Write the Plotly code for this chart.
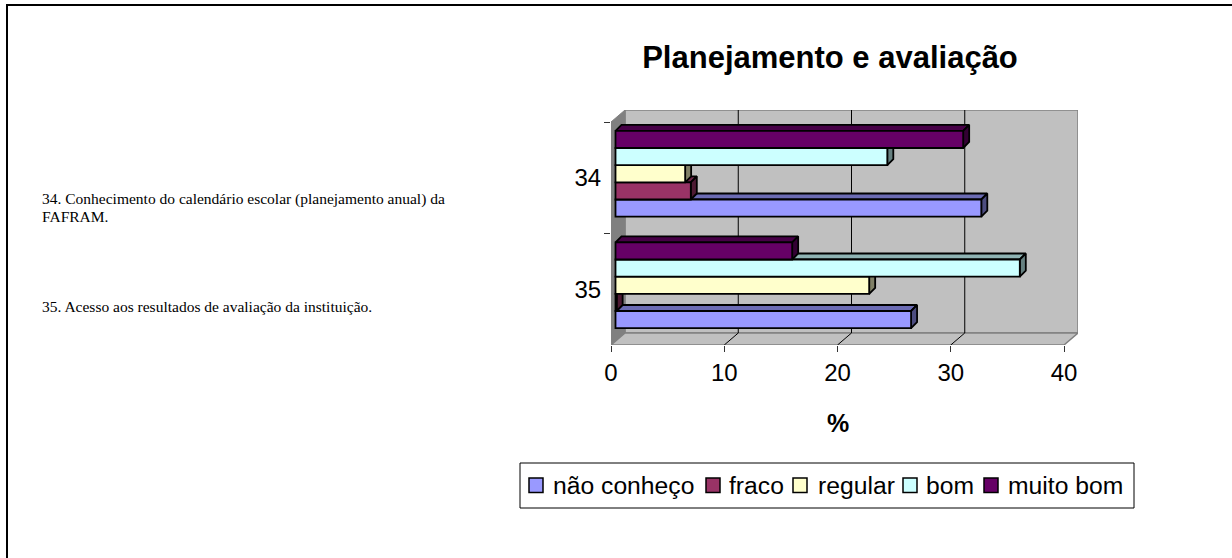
import plotly.graph_objects as go

W, H = 1232, 558

# ---- data ----
categories = ["34", "35"]
series_names = ["não conheço", "fraco", "regular", "bom", "muito bom"]
nao_conheco = [32.3, 26.1]
fraco = [6.65, 0.1]
regular = [6.15, 22.4]
bom = [24.0, 35.7]
muito_bom = [30.7, 15.6]
x_ticks = [0, 10, 20, 30, 40]
fills = ["#9999FF", "#993366", "#FFFFCC", "#CCFFFF", "#660066"]
tops = ["#6B6BB3", "#6B2447", "#B3B38F", "#8FB3B3", "#470047"]
sides = ["#4D4D80", "#4D1A33", "#808066", "#668080", "#330033"]
title_text = "Planejamento e avaliação"
note_34_a = "34. Conhecimento do calendário escolar (planejamento anual) da"
note_34_b = "FAFRAM."
note_35 = "35. Acesso aos resultados de avaliação da instituição."
all_series = [nao_conheco, fraco, regular, bom, muito_bom]

# ---- pixel layout ----
FX0, FX1 = 611, 1064     # front plane left/right
FY0, FY1 = 122, 345      # front plane top/bottom
DX, DY = 14, 12          # wall depth
LEG_SWATCH_X = [529, 706, 793, 903, 984]
LEG_TEXT_X = [552, 728, 817, 925, 1007]
LEG_BOX = (520, 463, 1134, 508)
LEG_CY = 485

UX = (FX1 - FX0) / 40    # px per % unit
UY = (FY1 - FY0) / 2     # px per category
dx = DX / UX
dy = DY / UY
bar_dx = 4.5 / UX        # front face of the bars, behind the front plane
bar_dy = 4 / UY
depth_x = 6 / UX         # depth of one bar
depth_y = 6 / UY
bar_h = 0.154

xmax = 40 + dx
ymin = -0.5 - dy
ymax = 1.5


def paper_x(px):
    return px / W


def paper_y(py):
    return 1 - py / H


fig = go.Figure()


def poly(xs, ys, fill, line="#000000", lw=1.8, z=0):
    fig.add_trace(go.Scatter(x=xs, y=ys, mode="lines", fill="toself", fillcolor=fill,
                             line=dict(color=line, width=lw), showlegend=False,
                             hoverinfo="skip", zorder=z, xaxis="x", yaxis="y"))


# walls and floor
poly([dx, 40 + dx, 40 + dx, dx, dx], [ymin, ymin, 1.5 - dy, 1.5 - dy, ymin], "#C0C0C0", "#808080", 1.5)
poly([0, dx, dx, 0, 0], [ymin + dy, ymin, 1.5 - dy, 1.5, ymin + dy], "#808080", "#808080", 1)
poly([0, 40, 40 + dx, dx, 0], [1.5, 1.5, 1.5 - dy, 1.5 - dy, 1.5], "#C0C0C0", "#808080", 1.5)
# gridlines on the wall + floor
for t in x_ticks[1:-1]:
    fig.add_trace(go.Scatter(x=[t, t + dx, t + dx], y=[1.5, 1.5 - dy, ymin], mode="lines",
                             line=dict(color="#000000", width=1), showlegend=False,
                             hoverinfo="skip", zorder=0))

# depth faces: bottom bar of each group first
for c in (1, 0):
    for s in range(5):
        v = all_series[s][c]
        yc = c + (2 - s) * bar_h - bar_dy
        yt = yc - bar_h / 2
        yb = yc + bar_h / 2
        x0 = bar_dx
        x1 = bar_dx + v
        poly([x0, x0 + depth_x, x1 + depth_x, x1, x0],
             [yt, yt - depth_y, yt - depth_y, yt, yt], tops[s])
        poly([x1, x1 + depth_x, x1 + depth_x, x1, x1],
             [yt, yt - depth_y, yb - depth_y, yb, yt], sides[s])

# front faces
for s, name in enumerate(series_names):
    fig.add_trace(go.Bar(
        x=all_series[s], base=bar_dx, orientation="h", width=bar_h,
        y=[c + (2 - s) * bar_h - bar_dy for c in range(2)],
        name=name, marker=dict(color=fills[s], line=dict(color="#000000", width=1.8)),
        hoverinfo="skip", zorder=1, xaxis="x", yaxis="y", showlegend=False))

# invisible trace carrying the front-plane category axis
fig.add_trace(go.Scatter(x=[0, 0], y=categories, mode="none", showlegend=False,
                         hoverinfo="skip", xaxis="x2", yaxis="y2"))

font_ui = "Liberation Sans, Arial, sans-serif"
font_serif = "Liberation Serif, Times New Roman, serif"
AX = "#333333"

annotations = [
    dict(text=t, x=paper_x(40), y=paper_y(py), xref="paper", yref="paper", xanchor="left",
         yanchor="middle", align="left", showarrow=False,
         font=dict(family=font_serif, size=15.5, color="#000000"))
    for t, py in ((note_34_a, 199), (note_34_b, 216), (note_35, 306))
]
annotations += [
    dict(text=n, x=paper_x(px), y=paper_y(LEG_CY), xref="paper", yref="paper", xanchor="left",
         yanchor="middle", showarrow=False, xshift=-1,
         font=dict(family=font_ui, size=24.7, color="#000000"))
    for n, px in zip(series_names, LEG_TEXT_X)
]
annotations.append(dict(text="<b>%</b>", x=paper_x(838), y=paper_y(423), xref="paper", yref="paper",
                        xanchor="center", yanchor="middle", showarrow=False,
                        font=dict(family=font_ui, size=25, color="#000000")))

shapes = [
    dict(type="line", xref="paper", yref="paper", x0=paper_x(7), x1=paper_x(7), y0=0, y1=paper_y(4),
         line=dict(color="#000000", width=2)),
    dict(type="line", xref="paper", yref="paper", x0=paper_x(6), x1=1, y0=paper_y(5), y1=paper_y(5),
         line=dict(color="#000000", width=2)),
    dict(type="rect", xref="paper", yref="paper", x0=paper_x(LEG_BOX[0]), x1=paper_x(LEG_BOX[2]),
         y0=paper_y(LEG_BOX[3]), y1=paper_y(LEG_BOX[1]), line=dict(color="#000000", width=1), fillcolor="#FFFFFF"),
]
for px, c in zip(LEG_SWATCH_X, fills):
    shapes.append(dict(type="rect", xref="paper", yref="paper", x0=paper_x(px), x1=paper_x(px + 14),
                       y0=paper_y(LEG_CY + 7.5), y1=paper_y(LEG_CY - 7), fillcolor=c,
                       line=dict(color="#000000", width=1.5)))

fig.update_layout(
    width=W, height=H, autosize=False,
    margin=dict(l=0, r=0, t=0, b=0, autoexpand=False),
    paper_bgcolor="#FFFFFF", plot_bgcolor="rgba(0,0,0,0)",
    barmode="overlay",
    showlegend=False,
    xaxis=dict(domain=[paper_x(FX0), paper_x(FX1 + DX)], range=[0, xmax], visible=False, fixedrange=True),
    yaxis=dict(domain=[paper_y(FY1), paper_y(FY0 - DY)], range=[ymax, ymin], visible=False, fixedrange=True),
    xaxis2=dict(domain=[paper_x(FX0), paper_x(FX1)], range=[0, 40], anchor="y2",
                tickvals=x_ticks, ticks="outside", ticklen=6, tickcolor=AX,
                showline=True, linecolor=AX, linewidth=1, showgrid=False, zeroline=False,
                tickfont=dict(family=font_ui, size=24, color="#000000")),
    yaxis2=dict(domain=[paper_y(FY1), paper_y(FY0)], anchor="x2", type="category",
                categoryorder="array", categoryarray=categories, range=[1.5, -0.5],
                tickson="boundaries", ticks="outside", ticklen=6, tickcolor=AX,
                showline=True, linecolor=AX, linewidth=1, showgrid=False, zeroline=False,
                ticklabelstandoff=4,
                tickfont=dict(family=font_ui, size=24, color="#000000")),
    title=dict(text="<b>%s</b>" % title_text, x=paper_x(830), xanchor="center",
               y=paper_y(57), yanchor="middle", font=dict(family=font_ui, size=31, color="#000000")),
    annotations=annotations,
    shapes=shapes,
)
fig.write_html("out.html", config=dict(displayModeBar=False),
               post_script="document.body.style.margin='0';document.documentElement.style.overflow='hidden';")
